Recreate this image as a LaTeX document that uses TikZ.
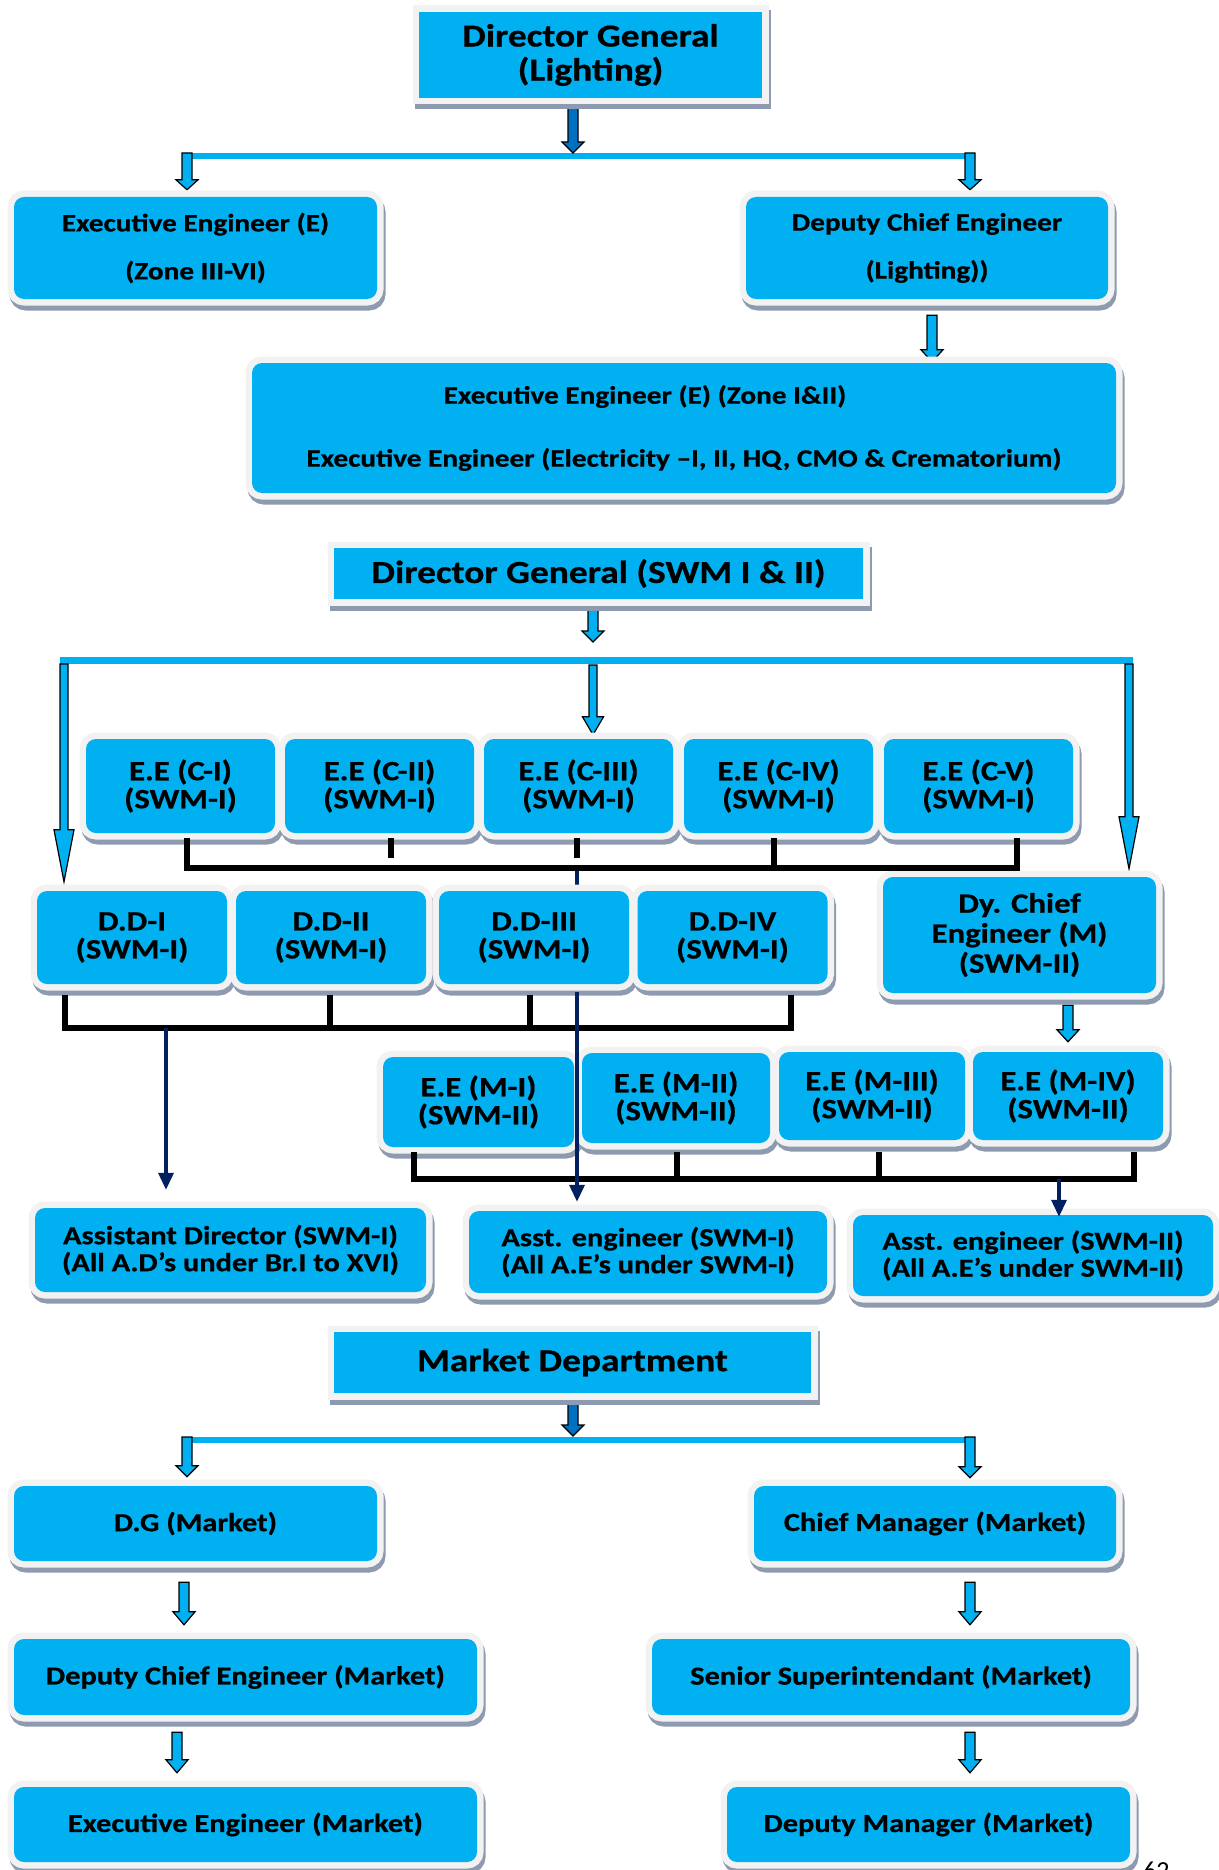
\documentclass[tikz,border=0pt]{standalone}
\usepackage{fontspec}
\setmainfont{Carlito}[BoldFeatures={FakeStretch=1.17,FakeBold=0.6}]
\usetikzlibrary{calc,arrows.meta}
\definecolor{boxc}{HTML}{00B0F0}
\definecolor{framec}{HTML}{F2F2F2}
\definecolor{shadowc}{HTML}{8E9AAF}
\definecolor{dblue}{HTML}{0070C0}
\definecolor{navyc}{HTML}{002060}
\pgfdeclarelayer{bg}
\pgfdeclarelayer{fg}
\pgfsetlayers{bg,main,fg}
\tikzset{
  base/.style={fill=boxc, inner sep=0pt, align=center, text=black,
    preaction={draw=shadowc, fill=shadowc, line width=13pt, transform canvas={xshift=2pt,yshift=-5pt}},
    preaction={draw=framec, line width=13pt}},
  rbox/.style={base, rounded corners=10pt},
  sbox/.style={base, sharp corners},
  fbig/.style={font=\fontsize{32}{34}\selectfont\bfseries},
  fwide/.style={font=\fontsize{25}{48}\selectfont\bfseries},
  fee/.style={font=\fontsize{25}{63}\selectfont\bfseries},
  fsm/.style={font=\fontsize{28}{28}\selectfont\bfseries},
  fdy/.style={font=\fontsize{28}{30}\selectfont\bfseries},
  fas/.style={font=\fontsize{26}{27}\selectfont\bfseries},
  fmk/.style={font=\fontsize{26}{28}\selectfont\bfseries},
  blkc/.style={draw=black, line width=1.2pt, fill=boxc, line join=miter},
  blkd/.style={draw=black, line width=1.2pt, fill=dblue, line join=miter},
  barc/.style={draw=boxc, line width=6.5pt},
  brk/.style={draw=black, line width=6pt, line join=miter},
  navyl/.style={draw=navyc, line width=3.5pt},
  navya/.style={draw=navyc, line width=3.5pt, -{Triangle[width=15pt,length=17pt]}},
}
% #1 style, #2 start, #3 start offset (down), #4 end, #5 end gap (up), #6 shaft, #7 head width, #8 head length
\newcommand\blk[8]{%
  \draw[#1] let \p1=(#2), \p2=(#4) in
    ({\x1-#6/2},{\y1-#3}) -- ({\x1-#6/2},{\y2+#5+#8}) -- ({\x1-#7/2},{\y2+#5+#8}) -- ({\x1},{\y2+#5})
    -- ({\x1+#7/2},{\y2+#5+#8}) -- ({\x1+#6/2},{\y2+#5+#8}) -- ({\x1+#6/2},{\y1-#3}) -- cycle;}
\begin{document}
\begin{tikzpicture}[x=1pt,y=-1pt]
\useasboundingbox (0,0) rectangle (1218,1870);

% ---------- Lighting ----------
\node[sbox,fbig,minimum width=343,minimum height=86] (dgl) at (590.5,55) {Director General\\(Lighting)};
\node[rbox,fwide,minimum width=363,minimum height=102] (eez) at (195.5,248) {Executive Engineer (E)\\(Zone III-VI)};
\node[rbox,fwide,minimum width=362,minimum height=102] (dce) at (927,248) {Deputy Chief Engineer\\(Lighting))};
\node[rbox,fee,minimum width=864,minimum height=130] (ee12) at (684,428) {Executive Engineer (E) (Zone I\&II)\hspace*{78pt}\\Executive Engineer (Electricity –I, II, HQ, CMO \& Crematorium)};

% ---------- SWM ----------
\node[sbox,fbig,minimum width=529,minimum height=51] (dgs) at (598.5,573.5) {Director General (SWM I \& II)};
\foreach \n/\x/\t in {c1/180.5/C-I, c2/379.5/C-II, c3/578.5/C-III, c4/778.5/C-IV, c5/978.5/C-V}
  \node[rbox,fsm,minimum width=189,minimum height=94] (\n) at (\x,786) {E.E (\t)\\(SWM-I)};
\foreach \n/\x/\t in {dd1/132/D.D-I, dd2/331/D.D-II, dd3/534/D.D-III, dd4/732.5/D.D-IV}
  \node[rbox,fsm,minimum width=190,minimum height=93] (\n) at (\x,937.5) {\t\\(SWM-I)};
\node[rbox,fdy,minimum width=273,minimum height=116] (dyc) at (1019.5,935) {Dy. Chief\\Engineer (M)\\(SWM-II)};
\node[rbox,fsm,minimum width=191,minimum height=90] (m1) at (478.5,1102) {E.E (M-I)\\(SWM-II)};
\node[rbox,fsm,minimum width=188,minimum height=90] (m2) at (676,1098) {E.E (M-II)\\(SWM-II)};
\node[rbox,fsm,minimum width=186,minimum height=88] (m3) at (872,1096) {E.E (M-III)\\(SWM-II)};
\node[rbox,fsm,minimum width=190,minimum height=88] (m4) at (1068,1096) {E.E (M-IV)\\(SWM-II)};
\node[rbox,fas,minimum width=391,minimum height=84] (ad) at (230.5,1250) {Assistant Director (SWM-I)\\(All A.D’s under Br.I to XVI)};
\node[rbox,fas,minimum width=358,minimum height=82] (ae1) at (648,1252) {Asst. engineer (SWM-I)\\(All A.E’s under SWM-I)};
\node[rbox,fas,minimum width=360,minimum height=81] (ae2) at (1033,1255.5) {Asst. engineer (SWM-II)\\(All A.E’s under SWM-II)};

% ---------- Market ----------
\node[sbox,fbig,minimum width=477,minimum height=61] (mkt) at (572.5,1362.5) {Market Department};
\node[rbox,fmk,minimum width=363,minimum height=75] (dgm) at (195.5,1523.5) {D.G (Market)};
\node[rbox,fmk,minimum width=362,minimum height=75] (cm) at (935,1523.5) {Chief Manager (Market)};
\node[rbox,fmk,minimum width=463,minimum height=76] (dcm) at (245.5,1677) {Deputy Chief Engineer (Market)};
\node[rbox,fmk,minimum width=478,minimum height=76] (ss) at (891,1677) {Senior Superintendant (Market)};
\node[rbox,fmk,minimum width=463,minimum height=75] (eem) at (245.5,1824.5) {Executive Engineer (Market)};
\node[rbox,fmk,minimum width=403,minimum height=75] (dm) at (928.5,1824.5) {Deputy Manager (Market)};
\node[anchor=base west,inner sep=0pt,font=\fontsize{26}{26}\selectfont] (pg) at (1143,1879) {62};

% ---------- coordinates ----------
\coordinate (bar1L) at (187,156);
\coordinate (bar1c) at (573,156);
\coordinate (bar1R) at (970,156);
\coordinate (bar2L) at (64,660.5);
\coordinate (bar2c) at (593,660.5);
\coordinate (bar2R) at (1129,660.5);
\coordinate (bar3L) at (187,1440);
\coordinate (bar3c) at (573,1440);
\coordinate (bar3R) at (970,1440);
\coordinate (cbL) at (187,868);
\coordinate (cbR) at (1017,868);
\coordinate (cbn) at (577,868);
\coordinate (dbL) at (65,1028);
\coordinate (dbR) at (791,1028);
\coordinate (ddn) at (166,1028);
\coordinate (mbL) at (414,1179);
\coordinate (mbR) at (1134,1179);
\coordinate (mbn) at (1059,1179);

\begin{pgfonlayer}{bg}
  \draw[barc] (bar1L) -- (bar1R);
  \draw[barc,line width=7pt,shorten <=-4pt,shorten >=-4pt] (bar2L) -- (bar2R);
  \draw[barc] (bar3L) -- (bar3R);
  % lighting arrows
  \blk{blkd}{dgl.south -| bar1c}{0pt}{bar1c}{3pt}{10pt}{22pt}{11pt}
  \blk{blkc}{bar1L}{-3pt}{eez.north}{7pt}{10pt}{22pt}{10pt}
  \blk{blkc}{bar1R}{-3pt}{dce.north}{7pt}{10pt}{22pt}{10pt}
  \blk{blkc}{[xshift=5pt]dce.south}{16pt}{ee12.north}{1pt}{10pt}{22pt}{12pt}
  % SWM arrows
  \blk{blkc}{dgs.south -| bar2c}{0pt}{bar2c}{18.5pt}{10pt}{22pt}{11pt}
  \blk{blkc}{bar2L}{3.5pt}{dd1.north}{9pt}{8pt}{20pt}{52pt}
  \blk{blkc}{bar2c}{4.5pt}{c3.north}{4pt}{8pt}{21pt}{18pt}
  \blk{blkc}{bar2R}{3.5pt}{dyc.north}{8pt}{8pt}{20pt}{52pt}
  \blk{blkc}{dyc.south -| m4.north}{12pt}{m4.north}{10pt}{10pt}{22pt}{12pt}
  % Market arrows
  \blk{blkd}{mkt.south -| bar3c}{0pt}{bar3c}{4pt}{10pt}{22pt}{11pt}
  \blk{blkc}{bar3L}{-3pt}{dgm.north}{9pt}{10pt}{22pt}{11pt}
  \blk{blkc}{bar3R}{-3pt}{cm.north}{8pt}{10pt}{22pt}{11pt}
  \blk{blkc}{$(dgm.south)+(-11.5,0)$}{21pt}{dcm.north}{14pt}{10pt}{22pt}{13pt}
  \blk{blkc}{$(cm.south)+(35,0)$}{21pt}{ss.north}{14pt}{10pt}{22pt}{13pt}
  \blk{blkc}{$(dcm.south)+(-68.5,0)$}{17pt}{eem.north}{14pt}{10pt}{22pt}{13pt}
  \blk{blkc}{$(ss.south)+(79,0)$}{17pt}{dm.north}{14pt}{10pt}{22pt}{13pt}
  % navy line behind D.D-III
  \draw[navyl] (cbn) -- ($(cbn |- dd3.south)+(0,12)$);
\end{pgfonlayer}

\begin{pgfonlayer}{fg}
  % C bracket
  \draw[brk] ($(c1.south -| cbL)+(0,5)$) -- (cbL) -- (cbR) -- ($(c5.south -| cbR)+(0,5)$);
  \draw[brk] ($(c2.south)+(11.5,5)$) -- ++(0,20);
  \draw[brk] ($(c3.south)+(-1.5,5)$) -- ++(0,20);
  \draw[brk] ($(c4.south)+(-4.5,5)$) -- ($(c4.south |- cbL)+(-4.5,0)$);
  % D.D bracket
  \draw[brk] ($(dd1.south -| dbL)+(0,11)$) -- (dbL) -- (dbR) -- ($(dd4.south -| dbR)+(0,11)$);
  \draw[brk] ($(dd2.south)+(-1,11)$) -- ($(dd2.south |- dbL)+(-1,0)$);
  \draw[brk] ($(dd3.south)+(-4,11)$) -- ($(dd3.south |- dbL)+(-4,0)$);
  % M bracket
  \draw[brk] ($(m1.south -| mbL)+(0,5)$) -- (mbL) -- (mbR) -- ($(m4.south -| mbR)+(0,12)$);
  \draw[brk] ($(m2.south)+(1,9)$) -- ($(m2.south |- mbL)+(1,0)$);
  \draw[brk] ($(m3.south)+(7,12)$) -- ($(m3.south |- mbL)+(7,0)$);
  % navy arrows
  \draw[navya] (ddn) -- ($(ddn |- ad.north)+(0,-18)$);
  \draw[navya] ($(cbn |- dd3.south)+(0,8)$) -- ($(cbn |- ae1.north)+(0,-9)$);
  \draw[navya] (mbn) -- ($(mbn |- ae2.north)+(0,2)$);
\end{pgfonlayer}
\end{tikzpicture}
\end{document}
